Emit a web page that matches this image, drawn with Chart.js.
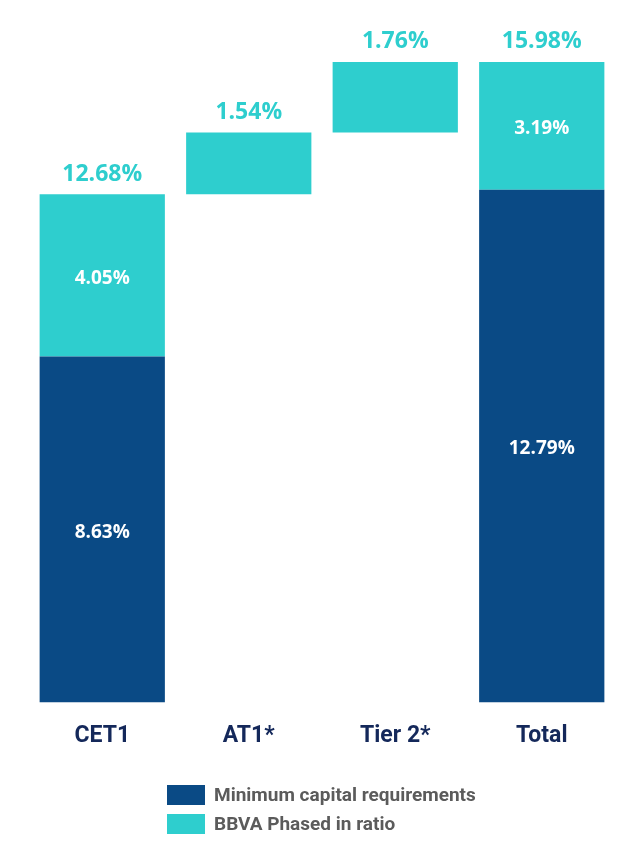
<!DOCTYPE html>
<html>
<head>
<meta charset="utf-8">
<script src="https://cdn.jsdelivr.net/npm/chart.js@4.4.0/dist/chart.umd.min.js"></script>
<style>
  body { margin: 0; background: #fff; }
  #wrap { position: relative; width: 644px; height: 866px; }
  #legend { position: absolute; left: 167px; top: 780px; font-family: Roboto, sans-serif; font-weight: bold; font-size: 19px; color: #5b5b5b; }
  .item { display: flex; align-items: center; height: 29px; }
  .box { width: 38px; height: 20px; margin-right: 9px; }
</style>
</head>
<body>
<div id="wrap">
  <canvas id="chart" width="644" height="866"></canvas>
  <div id="legend"></div>
</div>
<script>
const categories = ['CET1', 'AT1*', 'Tier 2*', 'Total'];
// minimum capital requirements (dark bars)
const minValues = [8.63, null, null, 12.79];
// BBVA phased in ratio pieces (cyan bars)
const phasedValues = [4.05, 1.54, 1.76, 3.19];
const topLabels = ['12.68%', '1.54%', '1.76%', '15.98%'];
const seriesNames = ['Minimum capital requirements', 'BBVA Phased in ratio'];
const darkBlue = '#0a4a85';
const cyan = '#2ecece';

// build floating bars: waterfall for AT1 / Tier 2
const darkData = [];
const cyanData = [];
let running = 0;
categories.forEach((c, i) => {
  if (minValues[i] !== null) {
    darkData.push([0, minValues[i]]);
    cyanData.push([minValues[i], minValues[i] + phasedValues[i]]);
    running = minValues[i] + phasedValues[i];
  } else {
    darkData.push(null);
    cyanData.push([running, running + phasedValues[i]]);
    running += phasedValues[i];
  }
});

const labelPlugin = {
  id: 'labels',
  afterDatasetsDraw(chart) {
    const ctx = chart.ctx;
    ctx.save();
    ctx.textAlign = 'center';
    ctx.textBaseline = 'middle';
    const dark = chart.getDatasetMeta(0).data;
    const light = chart.getDatasetMeta(1).data;
    categories.forEach((c, i) => {
      const bar = light[i];
      ctx.fillStyle = cyan;
      ctx.font = 'bold 23px "Open Sans"';
      ctx.fillText(topLabels[i], bar.x, bar.y - 20);
      if (minValues[i] !== null) {
        ctx.fillStyle = '#fff';
        ctx.font = 'bold 19px "Open Sans"';
        ctx.fillText(phasedValues[i].toFixed(2) + '%', bar.x, (bar.y + bar.base) / 2 + 3);
        const d = dark[i];
        ctx.fillText(minValues[i].toFixed(2) + '%', d.x, (d.y + d.base) / 2 + 3);
      }
    });
    ctx.restore();
  }
};

new Chart(document.getElementById('chart'), {
  type: 'bar',
  data: {
    labels: categories,
    datasets: [
      { label: seriesNames[0], data: darkData, backgroundColor: darkBlue },
      { label: seriesNames[1], data: cyanData, backgroundColor: cyan }
    ]
  },
  options: {
    responsive: false,
    animation: false,
    barPercentage: 0.855,
    categoryPercentage: 1,
    layout: { padding: { top: 21, left: 29, right: 29, bottom: 96 } },
    plugins: { legend: { display: false }, tooltip: { enabled: false } },
    scales: {
      x: {
        stacked: true,
        grid: { display: false, drawTicks: false },
        border: { display: false },
        ticks: { padding: 20, color: '#14285a', font: { family: 'Roboto', weight: 'bold', size: 23 } }
      },
      y: { display: false, min: 0, max: 17 }
    }
  },
  plugins: [labelPlugin]
});

const legend = document.getElementById('legend');
[darkBlue, cyan].forEach((col, i) => {
  const row = document.createElement('div');
  row.className = 'item';
  row.innerHTML = '<span class="box" style="background:' + col + '"></span>' + seriesNames[i];
  legend.appendChild(row);
});
</script>
</body>
</html>
